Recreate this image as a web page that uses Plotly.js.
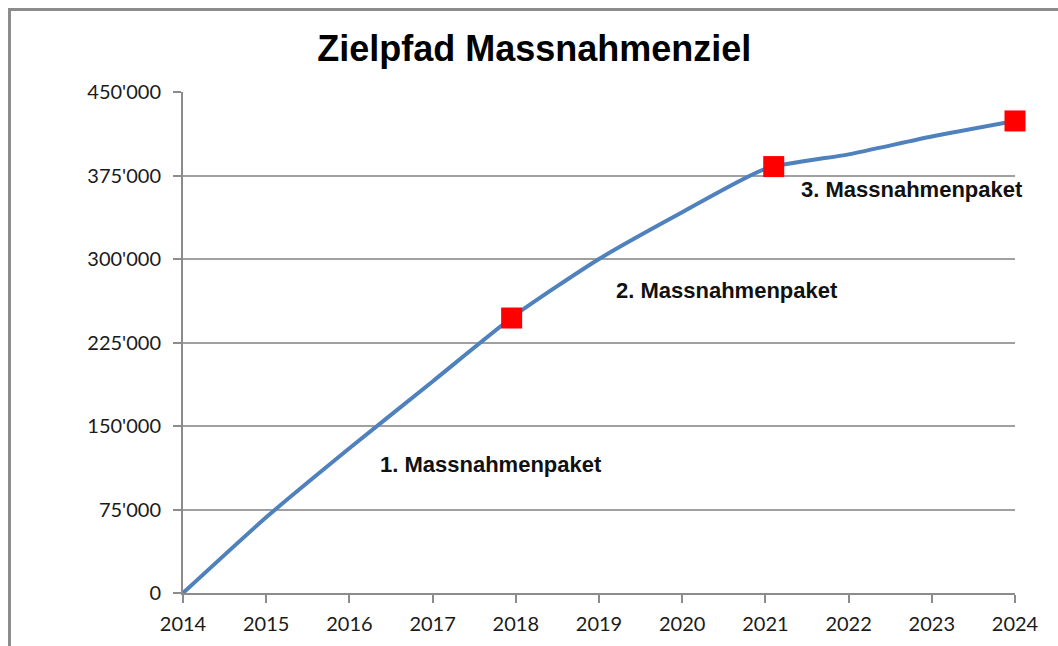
<!DOCTYPE html>
<html>
<head>
<meta charset="utf-8">
<script src="https://cdn.plot.ly/plotly-3.0.1.min.js"></script>
<style>
html,body{margin:0;padding:0;background:#fff;}
#wrap{position:relative;width:1058px;height:646px;overflow:hidden;}
#chart{position:absolute;left:0;top:0;width:1058px;height:646px;}
#frame{position:absolute;left:8px;top:8px;width:1070px;height:660px;border:3px solid #8c8c8c;box-sizing:border-box;pointer-events:none;}
</style>
</head>
<body>
<div id="wrap"><div id="chart"></div><div id="frame"></div></div>
<script>
// Data
const years = [2014, 2015, 2016, 2017, 2018, 2019, 2020, 2021, 2022, 2023, 2024];
const zielpfad = [0, 68000, 130000, 190000, 250000, 300000, 342000, 381000, 394000, 410000, 424000];
const markerYears = [2017.95, 2021.1, 2024];
const markerValues = [247000, 383000, 424000];
const yTickVals = [0, 75000, 150000, 225000, 300000, 375000, 450000];
const yTickText = ["0", "75'000", "150'000", "225'000", "300'000", "375'000", "450'000"];
const paketLabels = ["1. Massnahmenpaket", "2. Massnahmenpaket", "3. Massnahmenpaket"];
const paketX = [2017.70, 2020.54, 2022.76];
const paketY = [115000, 272000, 362000];

const traces = [
  {x: years, y: zielpfad, type: 'scatter', mode: 'lines',
   line: {color: '#4F81BD', width: 4, shape: 'spline', smoothing: 0.6},
   hoverinfo: 'skip', showlegend: false, cliponaxis: false},
  {x: markerYears, y: markerValues, type: 'scatter', mode: 'markers',
   marker: {symbol: 'square', size: 21, color: '#FF0000'},
   showlegend: false, cliponaxis: false}
];

const annotations = paketLabels.map((t, i) => ({
  x: paketX[i], y: paketY[i], xref: 'x', yref: 'y', text: '<b>' + t + '</b>', showarrow: false,
  font: {family: 'Liberation Sans, Arial, sans-serif', size: 22, color: '#111'}
}));

const tickFont = {family: 'Lato, Open Sans, sans-serif', size: 20, color: '#1a1a1a'};

const layout = {
  width: 1058, height: 646,
  margin: {l: 183, r: 43, t: 92, b: 53},
  paper_bgcolor: '#fff', plot_bgcolor: '#fff',
  title: {text: '<b>Zielpfad Massnahmenziel</b>', x: 0.505, xanchor: 'center', y: 0.925, yanchor: 'middle',
          font: {family: 'Liberation Sans, Arial, sans-serif', size: 36, color: '#000'}},
  xaxis: {range: [2014, 2024], tickvals: years, ticktext: years.map(String),
          showgrid: false, zeroline: false, showline: true, linecolor: '#8c8c8c', linewidth: 2,
          ticks: 'outside', ticklen: 8, tickwidth: 2, tickcolor: '#8c8c8c', ticklabelstandoff: 4,
          tickfont: tickFont, fixedrange: true},
  yaxis: {range: [0, 450000], tickvals: yTickVals, ticktext: yTickText,
          showgrid: true, gridcolor: '#a0a0a0', gridwidth: 2, zeroline: false,
          showline: true, linecolor: '#8c8c8c', linewidth: 2,
          ticks: 'outside', ticklen: 8, tickwidth: 2, tickcolor: '#8c8c8c', ticklabelstandoff: 8,
          tickfont: tickFont, fixedrange: true},
  annotations: annotations,
  showlegend: false
};

Plotly.newPlot('chart', traces, layout, {displayModeBar: false, staticPlot: true});
</script>
</body>
</html>
